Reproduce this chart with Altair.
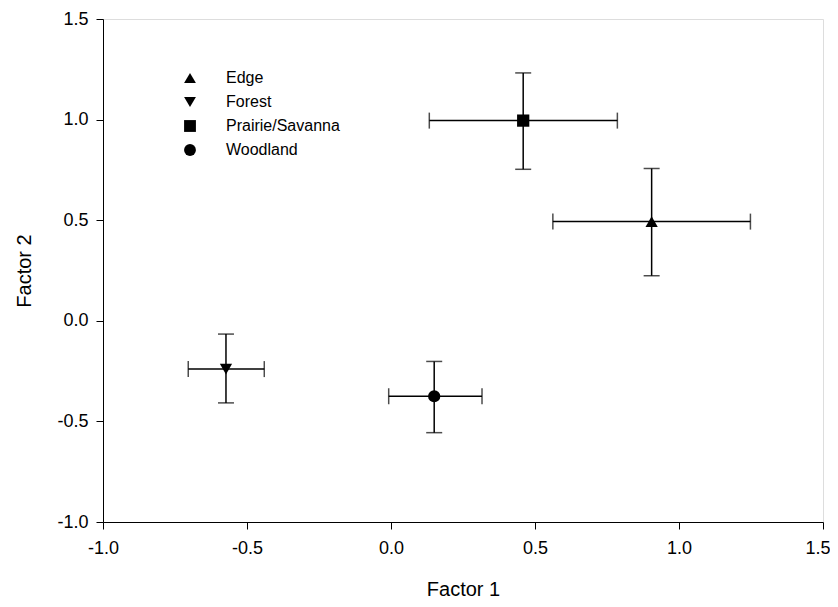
import altair as alt
import pandas as pd

habitat = ["Edge", "Forest", "Prairie/Savanna", "Woodland"]
shapes = ["triangle-up", "triangle-down", "square", "circle"]
f1 = [0.905, -0.573, 0.459, 0.150]
f1_lo = [0.562, -0.704, 0.133, -0.008]
f1_hi = [1.248, -0.440, 0.786, 0.316]
f2 = [0.493, -0.240, 0.995, -0.375]
f2_lo = [0.224, -0.408, 0.753, -0.556]
f2_hi = [0.757, -0.066, 1.232, -0.202]
ticks = [-1.0, -0.5, 0.0, 0.5, 1.0, 1.5]

df = pd.DataFrame({
    "habitat": habitat, "f1": f1, "f1_lo": f1_lo, "f1_hi": f1_hi,
    "f2": f2, "f2_lo": f2_lo, "f2_hi": f2_hi,
})

FONT = "Liberation Sans"
lab_expr = "replace(format(datum.value, '.1f'), '\u2212', '-')"

xscale = alt.Scale(domain=[-1.0, 1.5], nice=False, zero=False)
yscale = alt.Scale(domain=[-1.0, 1.5], nice=False, zero=False)

xax = alt.Axis(values=ticks, labelExpr=lab_expr, title="Factor 1", grid=False,
               tickSize=7, labelPadding=10, titlePadding=22, labelFontSize=18,
               titleFontSize=20, titleFontWeight="normal", labelFont=FONT,
               titleFont=FONT, domainColor="black", tickColor="black",
               labelColor="black", titleColor="black", labelFlush=False,
               labelAlign={"condition": {"test": "datum.value >= 1.5", "value": "right"},
                           "value": "center"},
               labelOffset={"condition": {"test": "datum.value >= 1.5", "value": 7},
                            "value": 0})
yax = alt.Axis(values=ticks, labelExpr=lab_expr, title="Factor 2", grid=False,
               tickSize=7, labelPadding=8, titlePadding=22, labelFontSize=18,
               titleFontSize=20, titleFontWeight="normal", labelFont=FONT,
               titleFont=FONT, domainColor="black", tickColor="black",
               labelColor="black", titleColor="black", labelFlush=False)

base = alt.Chart(df)

hbar = base.mark_rule(color="black", strokeWidth=1.5).encode(
    x=alt.X("f1_lo:Q", scale=xscale, axis=xax), x2="f1_hi:Q",
    y=alt.Y("f2:Q", scale=yscale, axis=yax))
vbar = base.mark_rule(color="black", strokeWidth=1.5).encode(
    x="f1:Q", y="f2_lo:Q", y2="f2_hi:Q")

cap_l = base.mark_tick(color="black", orient="vertical", size=16, thickness=1.5).encode(
    x="f1_lo:Q", y="f2:Q")
cap_r = base.mark_tick(color="black", orient="vertical", size=16, thickness=1.5).encode(
    x="f1_hi:Q", y="f2:Q")
cap_b = base.mark_tick(color="black", orient="horizontal", size=16, thickness=1.5).encode(
    x="f1:Q", y="f2_lo:Q")
cap_t = base.mark_tick(color="black", orient="horizontal", size=16, thickness=1.5).encode(
    x="f1:Q", y="f2_hi:Q")

pts = base.mark_point(filled=True, color="black", opacity=1, size=150).encode(
    x="f1:Q", y="f2:Q",
    shape=alt.Shape("habitat:N",
                    scale=alt.Scale(domain=habitat, range=shapes),
                    legend=alt.Legend(title=None, orient="none", legendX=79, legendY=51,
                                      symbolSize=140, symbolFillColor="black",
                                      symbolStrokeColor="black", symbolOpacity=1,
                                      labelFontSize=16, labelFont=FONT,
                                      labelColor="black", labelOffset=28,
                                      rowPadding=6, padding=0)))

chart = alt.layer(hbar, vbar, cap_l, cap_r, cap_b, cap_t, pts).properties(
    width=720, height=503,
    padding={"left": 95, "top": 11, "right": 7, "bottom": 76},
    autosize=alt.AutoSizeParams(type="none"),
).configure_view(stroke="black", strokeWidth=1).configure(background="white")

chart.save("out.html", embed_options={"renderer": "svg", "actions": False})
